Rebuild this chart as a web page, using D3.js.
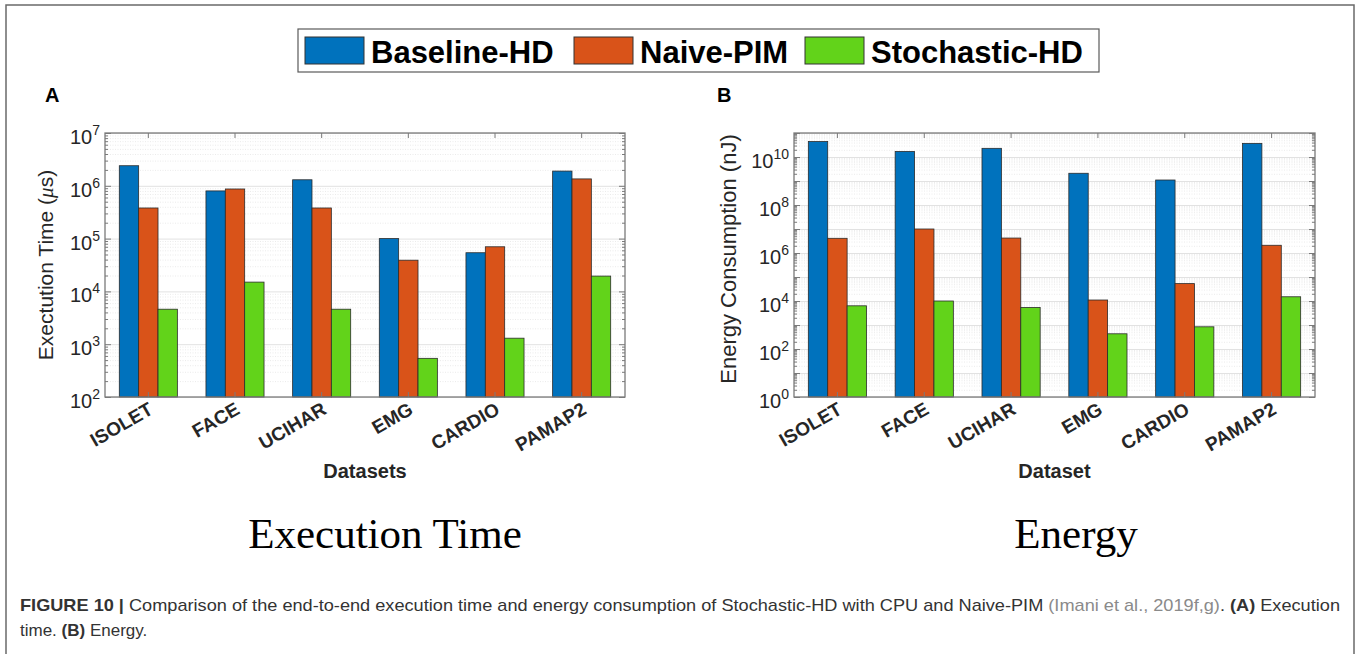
<!DOCTYPE html>
<html>
<head>
<meta charset="utf-8">
<script src="https://cdn.jsdelivr.net/npm/d3@7"></script>
<style>
  body { margin: 0; background: #fff; }
  svg { display: block; font-family: 'Liberation Sans', Arial, sans-serif; }
  .grid line { stroke: #e2e2e2; }
  .grid .domain { display: none; }
  .minor line { stroke: #ebebeb; stroke-dasharray: 1 1.5; }
  .minor .domain { display: none; }
  .ax .domain { display: none; }
  .ax line { stroke: #7a7a7a; }
</style>
</head>
<body>
<div id="chart"></div>
<script>
// data
const datasets = ['ISOLET', 'FACE', 'UCIHAR', 'EMG', 'CARDIO', 'PAMAP2']
const seriesNames = ['Baseline-HD', 'Naive-PIM', 'Stochastic-HD']

const timeBaseline = [2.4e6, 8.0e5, 1.3e6, 1.0e5, 5.4e4, 1.9e6]
const timeNaive = [3.8e5, 8.7e5, 3.8e5, 3.9e4, 7.0e4, 1.35e6]
const timeStochastic = [4.6e3, 1.5e4, 4.6e3, 540, 1.3e3, 1.95e4]

const energyBaseline = [4.4e10, 1.7e10, 2.3e10, 2.1e9, 1.1e9, 3.7e10]
const energyNaive = [4.1e6, 1.0e7, 4.2e6, 1.1e4, 5.3e4, 2.1e6]
const energyStochastic = [6.3e3, 1.0e4, 5.4e3, 430, 840, 1.5e4]

const timeExponents = [2, 3, 4, 5, 6, 7]
const energyExponents = [0, 2, 4, 6, 8, 10]

const colors = ['#0072bd', '#d95319', '#62d31a']
const w = 1360
const h = 654

const svg = d3.select('#chart').append('svg')
              .attr('width', w)
              .attr('height', h)

// outer figure frame (open at the bottom)
svg.append('path')
   .attr('d', 'M6,654 V5 H1354 V654')
   .attr('fill', 'none')
   .attr('stroke', '#6a6a6a')
   .attr('stroke-width', 1.5)

// legend
const leg = svg.append('g')
leg.append('rect')
   .attr('x', 298).attr('y', 29).attr('width', 801).attr('height', 43)
   .attr('fill', '#fff').attr('stroke', '#5a5a5a').attr('stroke-width', 1.2)
const legX = [305, 574, 805]
seriesNames.forEach((s, i) => {
  leg.append('rect')
     .attr('x', legX[i]).attr('y', 37).attr('width', 59).attr('height', 27)
     .attr('fill', colors[i]).attr('stroke', '#333').attr('stroke-width', 1)
  leg.append('text')
     .attr('x', legX[i] + 66).attr('y', 63)
     .attr('font-size', 31).attr('font-weight', 'bold').attr('fill', '#000')
     .text(s)
})

function panel(cfg) {
  const x0 = d3.scaleBand().domain(datasets).range([cfg.left, cfg.right])
  const gw = x0.bandwidth() * 0.67
  const x1 = d3.scaleBand().domain(seriesNames).range([-gw / 2, gw / 2])
  const y = d3.scaleLog().domain(cfg.domain).range([cfg.bottom, cfg.top])
  const pw = cfg.right - cfg.left

  const lo = Math.round(Math.log10(cfg.domain[0]))
  const hi = Math.round(Math.log10(cfg.domain[1]))
  const major = []
  const minor = []
  for (let k = lo; k <= hi; k++) {
    major.push(Math.pow(10, k))
    if (k < hi) for (let m = 2; m < 10; m++) minor.push(m * Math.pow(10, k))
  }

  const g = svg.append('g')

  // grid
  g.append('g').attr('class', 'minor')
   .attr('transform', 'translate(' + cfg.left + ',0)')
   .call(d3.axisLeft(y).tickValues(minor).tickSize(-pw).tickFormat(''))
  g.append('g').attr('class', 'grid')
   .attr('transform', 'translate(' + cfg.left + ',0)')
   .call(d3.axisLeft(y).tickValues(major).tickSize(-pw).tickFormat(''))

  // bars
  const series = cfg.values.map((vals, si) => vals.map((v, di) => ({ s: seriesNames[si], d: datasets[di], v: v, c: colors[si] })))
  g.append('g').selectAll('rect')
   .data(series.flat())
   .enter()
   .append('rect')
   .attr('x', d => x0(d.d) + x0.bandwidth() / 2 + x1(d.s))
   .attr('width', x1.bandwidth())
   .attr('y', d => y(d.v))
   .attr('height', d => cfg.bottom - y(d.v))
   .attr('fill', d => d.c)
   .attr('stroke', '#2b2b2b')
   .attr('stroke-width', 0.8)

  // ticks on all four sides, pointing inward
  g.append('g').attr('class', 'ax').attr('transform', 'translate(' + cfg.left + ',0)')
   .call(d3.axisLeft(y).tickValues(major).tickSize(-6).tickFormat(''))
  g.append('g').attr('class', 'ax').attr('transform', 'translate(' + cfg.left + ',0)')
   .call(d3.axisLeft(y).tickValues(minor).tickSize(-3).tickFormat(''))
  g.append('g').attr('class', 'ax').attr('transform', 'translate(' + cfg.right + ',0)')
   .call(d3.axisRight(y).tickValues(major).tickSize(-6).tickFormat(''))
  g.append('g').attr('class', 'ax').attr('transform', 'translate(' + cfg.right + ',0)')
   .call(d3.axisRight(y).tickValues(minor).tickSize(-3).tickFormat(''))
  g.append('g').attr('class', 'ax').attr('transform', 'translate(0,' + cfg.top + ')')
   .call(d3.axisTop(x0).tickSize(-5).tickFormat(''))
  const xb = g.append('g').attr('class', 'ax').attr('transform', 'translate(0,' + cfg.bottom + ')')
   .call(d3.axisBottom(x0).tickSize(-5))
  xb.selectAll('.tick text')
    .attr('y', 0).attr('dy', 0)
    .attr('transform', 'translate(6,16) rotate(-30)')
    .attr('text-anchor', 'end')
    .attr('font-size', 19).attr('font-weight', 'bold')
    .attr('font-family', "'Liberation Sans', Arial, sans-serif")
    .attr('fill', '#262626')

  // box
  g.append('rect')
   .attr('x', cfg.left).attr('y', cfg.top).attr('width', pw).attr('height', cfg.bottom - cfg.top)
   .attr('fill', 'none').attr('stroke', '#7a7a7a').attr('stroke-width', 1.3)

  // y tick labels 10^n
  cfg.exps.forEach(e => {
    const t = g.append('text')
               .attr('x', cfg.left - 5).attr('y', y(Math.pow(10, e)) + 11)
               .attr('text-anchor', 'end').attr('fill', '#262626')
    t.append('tspan').attr('font-size', 20).text('10')
    t.append('tspan').attr('font-size', 14).attr('dy', -9).text(e)
  })

  // y axis label
  const yl = g.append('text')
              .attr('transform', 'translate(' + (cfg.left - cfg.ylOff) + ',' + ((cfg.top + cfg.bottom) / 2 + cfg.ylShift) + ') rotate(-90)')
              .attr('text-anchor', 'middle').attr('font-size', cfg.ylSize).attr('fill', '#262626')
  cfg.ylabel(yl)

  // x axis label
  g.append('text')
   .attr('x', (cfg.left + cfg.right) / 2).attr('y', 478)
   .attr('text-anchor', 'middle').attr('font-size', 20).attr('font-weight', 'bold').attr('fill', '#262626')
   .text(cfg.xlabel)

  // panel letter
  g.append('text')
   .attr('x', cfg.letterX).attr('y', 102)
   .attr('font-size', 20).attr('font-weight', 'bold').attr('fill', '#000')
   .text(cfg.letter)

  // big serif title under the panel
  g.append('text')
   .attr('x', cfg.titleX).attr('y', 548)
   .attr('text-anchor', 'middle')
   .attr('font-family', "'Liberation Serif', 'Times New Roman', serif")
   .attr('font-size', 43).attr('fill', '#000')
   .text(cfg.title)
}

panel({
  left: 105, right: 625, top: 133, bottom: 397,
  domain: [1e2, 1e7], exps: timeExponents,
  values: [timeBaseline, timeNaive, timeStochastic],
  ylOff: 52, ylShift: 0, ylSize: 21,
  ylabel: t => {
    t.append('tspan').text('Exectution Time (')
    t.append('tspan').attr('font-style', 'italic').attr('font-family', "'Liberation Serif', serif").text('\u03bc')
    t.append('tspan').text('s)')
  },
  xlabel: 'Datasets', letter: 'A', letterX: 45,
  title: 'Execution Time', titleX: 385
})

panel({
  left: 794, right: 1315, top: 133, bottom: 397,
  domain: [1e0, 1e11], exps: energyExponents,
  values: [energyBaseline, energyNaive, energyStochastic],
  ylOff: 58, ylShift: -6, ylSize: 22,
  ylabel: t => t.text('Energy Consumption (nJ)'),
  xlabel: 'Dataset', letter: 'B', letterX: 717,
  title: 'Energy', titleX: 1076
})

// caption
const cap = svg.append('g').attr('font-size', 17).attr('fill', '#333')
const l1 = cap.append('text').attr('x', 20).attr('y', 611).attr('textLength', 1320).attr('lengthAdjust', 'spacingAndGlyphs')
l1.append('tspan').attr('font-weight', 'bold').text('FIGURE 10 | ')
l1.append('tspan').text('Comparison of the end-to-end execution time and energy consumption of Stochastic-HD with CPU and Naive-PIM ')
l1.append('tspan').attr('fill', '#8a8a8a').text('(Imani et al., 2019f,g)')
l1.append('tspan').text('. ')
l1.append('tspan').attr('font-weight', 'bold').text('(A)')
l1.append('tspan').text(' Execution')
const l2 = cap.append('text').attr('x', 20).attr('y', 636)
l2.append('tspan').text('time. ')
l2.append('tspan').attr('font-weight', 'bold').text('(B)')
l2.append('tspan').text(' Energy.')
</script>
</body>
</html>
